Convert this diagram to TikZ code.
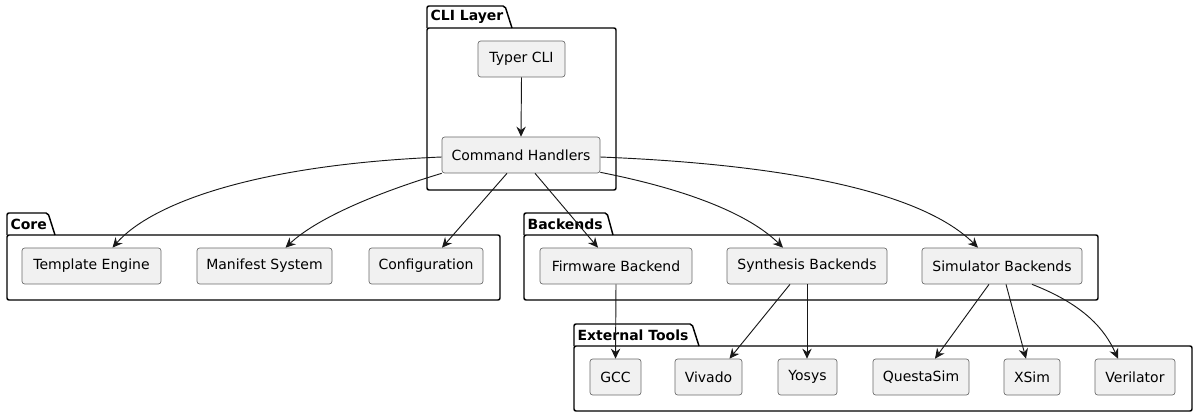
\documentclass[tikz,border=0pt]{standalone}
\usepackage{fontspec}
\setmainfont{DejaVu Sans}
\usetikzlibrary{arrows.meta,calc}

\definecolor{boxfill}{HTML}{F1F1F1}
\definecolor{boxline}{HTML}{181818}

\begin{document}
\begin{tikzpicture}[x=0.75pt, y=-0.75pt,
	comp/.style={draw=boxline!65, fill=boxfill, line width=.5pt, rounded corners=2pt,
		minimum height=27pt, inner sep=0pt, font=\fontsize{10.5}{12}\selectfont},
	w/.style={minimum width=#1*0.75pt},
	pkg/.style={draw=black, line width=1.1pt, rounded corners=1.5pt},
	pkglabel/.style={anchor=west, inner sep=1pt, font=\fontsize{10.5}{12}\selectfont\bfseries},
	arr/.style={draw=boxline, line width=.7pt, -{Stealth[length=7.5pt, width=7pt, inset=2.5pt]}}]
	\useasboundingbox (0,0) rectangle (1197,417);

	% packages
	\draw[pkg] (427,28) -- (427,6) -- (505,6) -- (512,28);
	\draw[pkg] (427,28) rectangle (616,190);
	\node[pkglabel] (cliname) at (429,17) {CLI Layer};

	\draw[pkg] (7,235) -- (7,213) -- (48,213) -- (55,235);
	\draw[pkg] (7,235) rectangle (500,300);
	\node[pkglabel] (corename) at (9,224) {Core};

	\draw[pkg] (524,235) -- (524,213) -- (607,213) -- (613,235);
	\draw[pkg] (524,235) rectangle (1098,300);
	\node[pkglabel] (bkname) at (526,224) {Backends};

	\draw[pkg] (574,346) -- (574,324) -- (692,324) -- (699,346);
	\draw[pkg] (574,346) rectangle (1192,411);
	\node[pkglabel] (extname) at (576,335) {External Tools};

	% components
	\node[comp, w=87] (typer) at (521.5,59) {Typer CLI};
	\node[comp, w=158] (cmd) at (521,155) {Command Handlers};

	\node[comp, w=139] (tpl) at (91.5,266) {Template Engine};
	\node[comp, w=135] (mfs) at (264.5,266) {Manifest System};
	\node[comp, w=114] (cfg) at (426,266) {Configuration};

	\node[comp, w=152] (fw) at (616,266) {Firmware Backend};
	\node[comp, w=160] (syn) at (807,266) {Synthesis Backends};
	\node[comp, w=160] (sim) at (1002,266) {Simulator Backends};

	\node[comp, w=51] (gcc) at (615.5,377) {GCC};
	\node[comp, w=67] (viv) at (708.5,377) {Vivado};
	\node[comp, w=59] (yos) at (807.5,377) {Yosys};
	\node[comp, w=96] (qst) at (921,377) {QuestaSim};
	\node[comp, w=56] (xsm) at (1032,377) {XSim};
	\node[comp, w=80] (ver) at (1135,377) {Verilator};

	% connectors
	\draw[arr] (typer.south) -- (cmd.north);

	\draw[arr] ($(cmd.west)+(0,2)$) .. controls (250,165) and (150,205) .. ($(tpl.north)+(21,0)$);
	\draw[arr] (cmd.south west) .. controls (370,195) and (315,220) .. ($(mfs.north)+(21,0)$);
	\draw[arr] ($(cmd.south)+(-14,0)$) -- ($(cfg.north)+(16,0)$);
	\draw[arr] ($(cmd.south)+(14,0)$) -- ($(fw.north)+(-18,0)$);
	\draw[arr] ($(cmd.south east)+(0,-1)$) .. controls (690,190) and (750,215) .. ($(syn.north)+(-24,0)$);
	\draw[arr] ($(cmd.east)+(0,2)$) .. controls (800,165) and (925,195) .. ($(sim.north)+(-24,0)$);

	\draw[arr] (fw.south) -- (gcc.north);
	\draw[arr] ($(syn.south)+(-17,0)$) -- ($(viv.north)+(21,0)$);
	\draw[arr] (syn.south) -- (syn.south |- yos.north);
	\draw[arr] ($(sim.south)+(-13,0)$) -- ($(qst.north)+(14,0)$);
	\draw[arr] ($(sim.south)+(4,0)$) -- ($(xsm.north)+(-6,0)$);
	\draw[arr] ($(sim.south)+(30,0)$) .. controls (1085,305) and (1105,330) .. ($(ver.north)+(-17,0)$);
\end{tikzpicture}
\end{document}
